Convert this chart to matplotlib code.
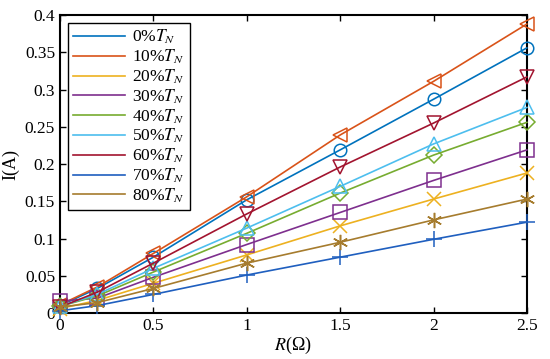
import matplotlib
matplotlib.use('Agg')
import matplotlib.pyplot as plt
from matplotlib.lines import Line2D
from matplotlib.ticker import FormatStrFormatter

plt.rcParams['font.family'] = 'Liberation Serif'
plt.rcParams['mathtext.fontset'] = 'stix'

# Resistance values (Ohm)
r = [0, 0.2, 0.5, 1, 1.5, 2, 2.5]

# Current (A) for each load level
labels = ['0%', '10%', '20%', '30%', '40%', '50%', '60%', '70%', '80%']
i_0 = [0.010, 0.033, 0.075, 0.152, 0.219, 0.287, 0.356]
i_10 = [0.011, 0.035, 0.080, 0.156, 0.239, 0.311, 0.388]
i_20 = [0.006, 0.017, 0.040, 0.078, 0.117, 0.153, 0.188]
i_30 = [0.016, 0.020, 0.048, 0.092, 0.135, 0.178, 0.219]
i_40 = [0.009, 0.023, 0.055, 0.107, 0.161, 0.212, 0.256]
i_50 = [0.009, 0.025, 0.060, 0.114, 0.170, 0.227, 0.276]
i_60 = [0.008, 0.028, 0.067, 0.133, 0.196, 0.255, 0.317]
i_70 = [0.003, 0.010, 0.025, 0.051, 0.075, 0.099, 0.122]
i_80 = [0.008, 0.014, 0.033, 0.067, 0.095, 0.125, 0.153]
series = [i_0, i_10, i_20, i_30, i_40, i_50, i_60, i_70, i_80]

colors = ['#0072BD', '#D95319', '#EDB120', '#7E2F8E', '#77AC30',
          '#4DBEEE', '#A2142F', '#1f5fbf', '#A67C2E']
markers = ['o', '<', 'x', 's', 'D', '^', 'v', '+', (6, 2, 0)]
msizes = [9, 10, 10, 10, 8, 10, 10, 11, 11]

fig = plt.figure(figsize=(5.5, 3.59), dpi=100)
ax = fig.add_axes([0.109, 0.128, 0.849, 0.830])

for y, c, m, ms in zip(series, colors, markers, msizes):
    ax.plot(r, y, color=c, lw=1.2, marker=m, ms=ms, mfc='none', mec=c, mew=1.1,
            clip_on=False, zorder=3)

ax.set_xlim(0, 2.5)
ax.set_ylim(0, 0.4)
ax.set_xticks([0, 0.5, 1, 1.5, 2, 2.5])
ax.set_yticks([0, 0.05, 0.1, 0.15, 0.2, 0.25, 0.3, 0.35, 0.4])
ax.xaxis.set_major_formatter(FormatStrFormatter('%g'))
ax.yaxis.set_major_formatter(FormatStrFormatter('%g'))
ax.tick_params(direction='in', top=True, right=True, labelsize=12.5, length=4, width=1)
for s in ax.spines.values():
    s.set_linewidth(1.5)

ax.set_xlabel(r'$R$(Ω)', fontsize=13, labelpad=1)
ax.set_ylabel('I(A)', fontsize=13, labelpad=4)

handles = [Line2D([], [], color=c, lw=1.2) for c in colors]
leg_labels = [lab + r'$T_N$' for lab in labels]
leg = ax.legend(handles, leg_labels, loc='upper left', fontsize=12.5, handlelength=3.0,
                labelspacing=0.08, borderpad=0.3, handletextpad=0.4,
                fancybox=False, edgecolor='black', framealpha=1,
                bbox_to_anchor=(0.0, 1.0), borderaxespad=0.45)
leg.get_frame().set_linewidth(1.0)
leg.set_zorder(5)

fig.savefig('out.png', dpi=100)
